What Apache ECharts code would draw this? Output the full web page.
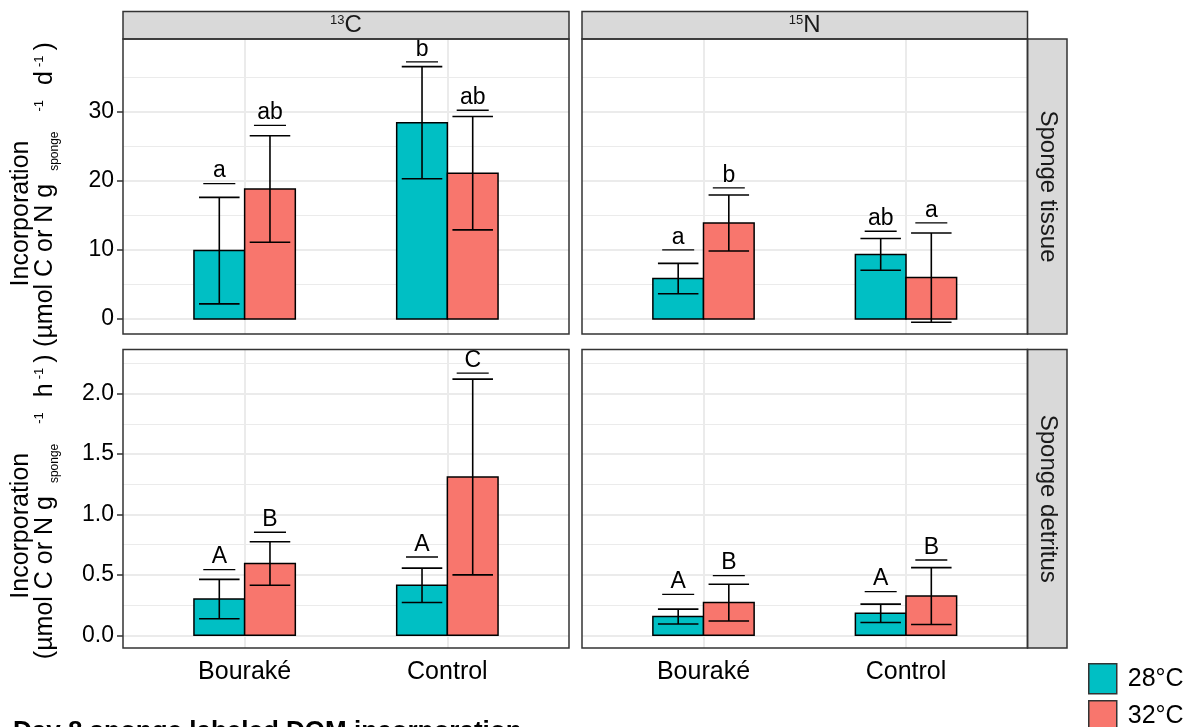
<!DOCTYPE html>
<html><head><meta charset="utf-8">
<script src="https://cdn.jsdelivr.net/npm/echarts@6/dist/echarts.min.js"></script>
<style>html,body{margin:0;padding:0;background:#fff}#c{width:1184px;height:727px}</style>
</head><body><div id="c"></div>
<script>
// ---------- data ----------
const categories = ['Bouraké', 'Control'];
const temperatures = ['28°C', '32°C'];
const isotopeLabels = ['13C', '15N'];
const compartmentLabels = ['Sponge tissue', 'Sponge detritus'];

// Sponge tissue, 13C
const tissueC_mean28 = [9.9, 28.4];
const tissueC_sd28 = [7.7, 8.1];
const tissueC_mean32 = [18.8, 21.1];
const tissueC_sd32 = [7.7, 8.2];
const tissueC_letters28 = ['a', 'b'];
const tissueC_letters32 = ['ab', 'ab'];
const tissueC_letterY28 = [19.6, 37.2];
const tissueC_letterY32 = [28.0, 30.2];

// Sponge tissue, 15N
const tissueN_mean28 = [5.85, 9.35];
const tissueN_sd28 = [2.2, 2.3];
const tissueN_mean32 = [13.9, 6.0];
const tissueN_sd32 = [4.05, 6.45];
const tissueN_letters28 = ['a', 'ab'];
const tissueN_letters32 = ['b', 'a'];
const tissueN_letterY28 = [10.0, 12.7];
const tissueN_letterY32 = [18.96, 13.9];

// Sponge detritus, 13C
const detritusC_mean28 = [0.30, 0.414];
const detritusC_sd28 = [0.163, 0.142];
const detritusC_mean32 = [0.594, 1.31];
const detritusC_sd32 = [0.18, 0.81];
const detritusC_letters28 = ['A', 'A'];
const detritusC_letters32 = ['B', 'C'];
const detritusC_letterY28 = [0.544, 0.648];
const detritusC_letterY32 = [0.853, 2.17];

// Sponge detritus, 15N
const detritusN_mean28 = [0.155, 0.182];
const detritusN_sd28 = [0.062, 0.076];
const detritusN_mean32 = [0.271, 0.325];
const detritusN_sd32 = [0.152, 0.235];
const detritusN_letters28 = ['A', 'A'];
const detritusN_letters32 = ['B', 'B'];
const detritusN_letterY28 = [0.339, 0.362];
const detritusN_letterY32 = [0.494, 0.623];

// axes
const tissueTicks = [0, 10, 20, 30];
const tissueMinor = [5, 15, 25, 35];
const tissueRange = [-2.16, 40.5];
const detritusTicks = [0, 0.5, 1.0, 1.5, 2.0];
const detritusMinor = [0.25, 0.75, 1.25, 1.75, 2.25];
const detritusRange = [-0.105, 2.365];

// ---------- layout / style ----------
const FONT = '"Liberation Sans", Arial, Helvetica, sans-serif';
const COLORS = ['#00BFC4', '#F8766D'];
const colX = [[123, 446], [582, 445.5]];
const rowY = [[39, 295], [349.5, 298.5]];

const panels = [
  {row: 0, col: 0, mean: [tissueC_mean28, tissueC_mean32], sd: [tissueC_sd28, tissueC_sd32], letters: [tissueC_letters28, tissueC_letters32], ly: [tissueC_letterY28, tissueC_letterY32]},
  {row: 0, col: 1, mean: [tissueN_mean28, tissueN_mean32], sd: [tissueN_sd28, tissueN_sd32], letters: [tissueN_letters28, tissueN_letters32], ly: [tissueN_letterY28, tissueN_letterY32]},
  {row: 1, col: 0, mean: [detritusC_mean28, detritusC_mean32], sd: [detritusC_sd28, detritusC_sd32], letters: [detritusC_letters28, detritusC_letters32], ly: [detritusC_letterY28, detritusC_letterY32]},
  {row: 1, col: 1, mean: [detritusN_mean28, detritusN_mean32], sd: [detritusN_sd28, detritusN_sd32], letters: [detritusN_letters28, detritusN_letters32], ly: [detritusN_letterY28, detritusN_letterY32]}
];
const rowTicks = [tissueTicks, detritusTicks];
const rowMinor = [tissueMinor, detritusMinor];
const rowRange = [tissueRange, detritusRange];
const rowFmt = [v => String(v), v => v.toFixed(1)];

const grids = [], xAxes = [], yAxes = [], series = [];
panels.forEach((p, i) => {
  grids.push({left: colX[p.col][0], width: colX[p.col][1], top: rowY[p.row][0], height: rowY[p.row][1], show: false});
  xAxes.push({
    gridIndex: i, type: 'value', min: 0.4, max: 2.6, show: p.row === 1,
    axisLine: {show: false}, splitLine: {show: false},
    axisTick: {show: true, customValues: [1, 2], length: 6, lineStyle: {color: '#333', width: 1.5}},
    axisLabel: {customValues: [1, 2], margin: 12, fontSize: 25, fontFamily: FONT, color: '#000',
      formatter: v => categories[Math.round(v) - 1]}
  });
  yAxes.push({
    gridIndex: i, type: 'value', min: rowRange[p.row][0], max: rowRange[p.row][1], show: p.col === 0,
    axisLine: {show: false}, splitLine: {show: false},
    axisTick: {show: true, customValues: rowTicks[p.row], length: 6, lineStyle: {color: '#333', width: 1.5}},
    axisLabel: {customValues: rowTicks[p.row], margin: 9, fontSize: 23, fontFamily: FONT, color: '#000',
      formatter: rowFmt[p.row]}
  });
  // background grid lines (through the axes' scales)
  const ml = [];
  rowTicks[p.row].forEach(v => ml.push({yAxis: v, lineStyle: {color: '#EBEBEB', width: 2, type: 'solid'}}));
  rowMinor[p.row].forEach(v => ml.push({yAxis: v, lineStyle: {color: '#EBEBEB', width: 1, type: 'solid'}}));
  [1, 2].forEach(v => ml.push({xAxis: v, lineStyle: {color: '#EBEBEB', width: 2, type: 'solid'}}));
  series.push({
    type: 'line', xAxisIndex: i, yAxisIndex: i, data: [[1, 0]], showSymbol: false, silent: true,
    lineStyle: {opacity: 0}, z: 1, animation: false, legendHoverLink: false,
    markLine: {silent: true, symbol: ['none', 'none'], label: {show: false}, animation: false, z: 1, data: ml}
  });
  [0, 1].forEach(t => {
    const data = categories.map((c, k) => [k + 1, p.mean[t][k], p.sd[t][k], p.ly[t][k]]);
    const letters = p.letters[t];
    series.push({
      type: 'custom', name: temperatures[t], xAxisIndex: i, yAxisIndex: i, z: 10, animation: false,
      itemStyle: {color: COLORS[t], borderColor: '#000', borderWidth: 1.5},
      data: data,
      renderItem: (params, api) => {
        const xc = api.value(0) + (t === 0 ? -0.125 : 0.125);
        const m = api.value(1), s = api.value(2), ly = api.value(3);
        const a = api.coord([xc - 0.125, m]);
        const b = api.coord([xc + 0.125, 0]);
        const top = api.coord([xc, m + s]);
        const bot = api.coord([xc, m - s]);
        const capL = api.coord([xc - 0.1, 0])[0], capR = api.coord([xc + 0.1, 0])[0];
        const lyP = api.coord([xc, ly])[1];
        const lL = api.coord([xc - 0.079, 0])[0], lR = api.coord([xc + 0.079, 0])[0];
        const ls = {stroke: '#000', lineWidth: 1.6};
        return {type: 'group', children: [
          {type: 'rect', shape: {x: a[0], y: a[1], width: b[0] - a[0], height: b[1] - a[1]},
            style: {fill: COLORS[t], stroke: '#000', lineWidth: 1.5}},
          {type: 'line', shape: {x1: top[0], y1: top[1], x2: bot[0], y2: bot[1]}, style: ls},
          {type: 'line', shape: {x1: capL, y1: top[1], x2: capR, y2: top[1]}, style: ls},
          {type: 'line', shape: {x1: capL, y1: bot[1], x2: capR, y2: bot[1]}, style: ls},
          {type: 'line', shape: {x1: lL, y1: lyP, x2: lR, y2: lyP}, style: {stroke: '#000', lineWidth: 1.3}},
          {type: 'text', x: top[0], y: lyP - 1,
            style: {text: letters[params.dataIndex], fontSize: 23, fontFamily: FONT, fill: '#000', align: 'center', verticalAlign: 'bottom'}}
        ]};
      }
    });
  });
});

// ---------- text helpers ----------
const mctx = document.createElement('canvas').getContext('2d');
function tw(t, s, w) { mctx.font = (w || 'normal') + ' ' + s + 'px ' + FONT; return mctx.measureText(t).width; }
// fragments: [text, size, shift(+ = down), gapBefore]
function fragWidth(frags) { return frags.reduce((u, f) => u + f[3] + tw(f[0], f[1]), 0); }
function fragChildren(frags, base, z, fill) {
  let u = 0; const ch = [];
  frags.forEach(([t, s, sh, gap]) => {
    u += gap;
    ch.push({type: 'text', x: u, y: base + sh - 0.35 * s, z: z || 0,
      style: {text: t, fontSize: s, fontFamily: FONT, fill: fill || '#000', align: 'left', verticalAlign: 'middle'}});
    u += tw(t, s);
  });
  return ch;
}
function yTitle(centerY, unit) {
  const line2 = [['(µmol C or N g', 25, 0, 0], ['sponge', 12, 5, 13], ['-1', 13, -10, 20],
                 [unit, 25, 0, 15], ['-1', 13, -10, 4], [')', 25, 0, 5]];
  const w1 = tw('Incorporation', 25);
  const w2 = fragWidth(line2);
  return [
    {type: 'group', x: 0, y: centerY + 27 + w1 / 2, rotation: Math.PI / 2,
      children: fragChildren([['Incorporation', 25, 0, 0]], 30)},
    {type: 'group', x: 0, y: centerY + 8 + w2 / 2, rotation: Math.PI / 2,
      children: fragChildren(line2, 54)}
  ];
}
function stripTop(cx, iso) {
  const frags = [[iso.slice(0, 2), 13, -9, 0], [iso.slice(2), 24, 0, 0]];
  const w = fragWidth(frags);
  return {type: 'group', x: cx - w / 2, y: 34, z: 51, children: fragChildren(frags, 0, 51, '#1A1A1A')};
}

const graphics = [];
// strips
colX.forEach(([x, w], c) => {
  graphics.push({type: 'rect', shape: {x: x, y: 11.5, width: w, height: 27.5}, style: {fill: '#D9D9D9', stroke: '#333', lineWidth: 1.5}, z: 50});
  graphics.push(stripTop(x + w / 2, isotopeLabels[c]));
});
rowY.forEach(([y, h], r) => {
  graphics.push({type: 'rect', shape: {x: 1027.5, y: y, width: 39.5, height: h}, style: {fill: '#D9D9D9', stroke: '#333', lineWidth: 1.5}, z: 50});
  graphics.push({type: 'text', x: 1047.5, y: y + h / 2, rotation: -Math.PI / 2, z: 51,
    style: {text: compartmentLabels[r], fontSize: 24, fontFamily: FONT, fill: '#1A1A1A', align: 'center', verticalAlign: 'middle'}});
});
// panel borders
panels.forEach(p => {
  graphics.push({type: 'rect', shape: {x: colX[p.col][0], y: rowY[p.row][0], width: colX[p.col][1], height: rowY[p.row][1]},
    style: {fill: 'none', stroke: '#333', lineWidth: 1.5}, z: 60});
});
// y titles
yTitle(rowY[0][0] + rowY[0][1] / 2, 'd').forEach(g => graphics.push(g));
yTitle(rowY[1][0] + rowY[1][1] / 2, 'h').forEach(g => graphics.push(g));
// bottom title (cut at page edge)
graphics.push({type: 'text', x: 13, y: 732, style: {text: 'Day 8 sponge labeled DOM incorporation', fontSize: 26, fontWeight: 'bold', fontFamily: FONT, fill: '#000', align: 'left', verticalAlign: 'middle'}});

const legendBase = {orient: 'vertical', left: 1088, itemWidth: 28, itemHeight: 30, padding: 0,
  icon: 'rect', selectedMode: false, itemStyle: {borderColor: '#333', borderWidth: 1.5},
  textStyle: {fontSize: 25, fontFamily: FONT, color: '#000', padding: [0, 0, 0, 6]}};

const chart = echarts.init(document.getElementById('c'));
chart.setOption({
  animation: false,
  backgroundColor: '#fff',
  grid: grids, xAxis: xAxes, yAxis: yAxes, series: series,
  legend: [
    Object.assign({}, legendBase, {data: [temperatures[0]], top: 663}),
    Object.assign({}, legendBase, {data: [temperatures[1]], top: 700})
  ],
  graphic: graphics
});
</script></body></html>
